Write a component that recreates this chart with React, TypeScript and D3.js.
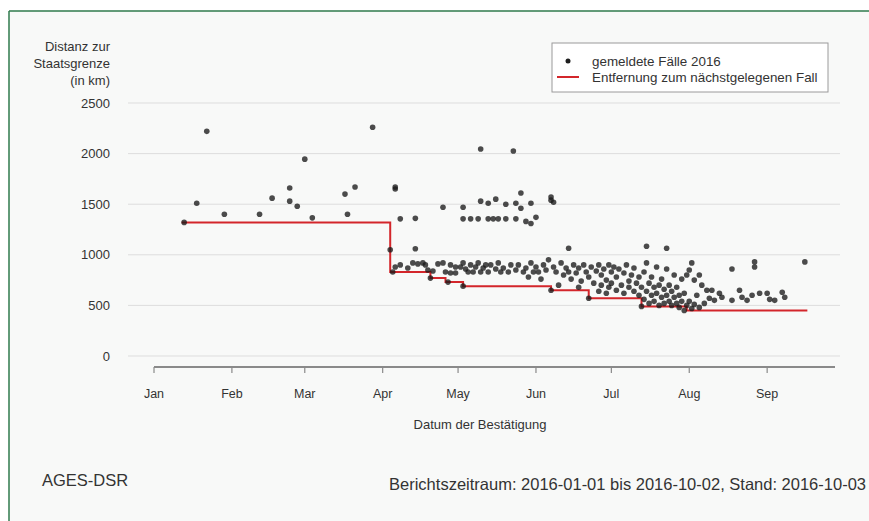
import React from "react";
import * as d3 from "d3";

// ticks / labels
const monthLabels = ["Jan", "Feb", "Mar", "Apr", "May", "Jun", "Jul", "Aug", "Sep"];
const yTicks = [0, 500, 1000, 1500, 2000, 2500];

// gemeldete Fälle 2016: [MM-DD, km]
const earlyCases: [string, number][] = [
  ["01-13", 1320], ["01-18", 1510], ["01-22", 2220], ["01-29", 1400], ["02-12", 1400],
  ["02-17", 1560], ["02-24", 1660], ["02-24", 1530], ["02-27", 1480], ["03-01", 1945],
  ["03-04", 1365], ["03-17", 1600], ["03-18", 1400], ["03-21", 1670], ["03-28", 2260],
];

const aprilCases: [string, number][] = [
  ["04-04", 1050], ["04-05", 830], ["04-06", 1650], ["04-06", 1670], ["04-06", 880],
  ["04-08", 1355], ["04-08", 900], ["04-11", 870], ["04-13", 920], ["04-14", 1360],
  ["04-14", 1060], ["04-15", 910], ["04-17", 920], ["04-18", 900], ["04-19", 850],
  ["04-20", 770], ["04-21", 840], ["04-23", 910], ["04-25", 1470], ["04-25", 920],
  ["04-26", 830], ["04-27", 730], ["04-28", 820], ["04-28", 900], ["04-30", 880],
  ["04-30", 820],
];

const mayCases: [string, number][] = [
  ["05-02", 880], ["05-03", 1470], ["05-03", 1355], ["05-03", 920], ["05-03", 690],
  ["05-04", 860], ["05-05", 830], ["05-06", 1355], ["05-06", 900], ["05-07", 830],
  ["05-08", 880], ["05-09", 1355], ["05-09", 920], ["05-10", 2045], ["05-10", 1530],
  ["05-10", 830], ["05-11", 870], ["05-12", 900], ["05-13", 1510], ["05-13", 1355],
  ["05-13", 830], ["05-14", 900], ["05-15", 1355], ["05-16", 1550], ["05-16", 860],
  ["05-17", 1355], ["05-17", 920], ["05-18", 830], ["05-19", 870], ["05-20", 1500],
  ["05-20", 1355], ["05-21", 830], ["05-22", 900], ["05-23", 2025], ["05-24", 1510],
  ["05-24", 1355], ["05-24", 850], ["05-25", 900], ["05-26", 1460], ["05-26", 1610],
  ["05-27", 830], ["05-28", 1330], ["05-28", 870], ["05-29", 780], ["05-30", 1510],
  ["05-30", 1310], ["05-30", 920], ["05-31", 830],
];

const juneCases: [string, number][] = [
  ["06-01", 1370], ["06-01", 880], ["06-02", 830], ["06-03", 760], ["06-04", 900],
  ["06-05", 850], ["06-06", 950], ["06-07", 1570], ["06-07", 1540], ["06-07", 650],
  ["06-08", 1520], ["06-08", 880], ["06-09", 830], ["06-10", 700], ["06-11", 920],
  ["06-12", 800], ["06-13", 870], ["06-14", 1065], ["06-14", 830], ["06-15", 760],
  ["06-16", 900], ["06-17", 820], ["06-18", 870], ["06-18", 680], ["06-19", 740],
  ["06-20", 900], ["06-21", 830], ["06-22", 570], ["06-22", 780], ["06-23", 880],
  ["06-24", 720], ["06-25", 840], ["06-26", 900], ["06-26", 640], ["06-27", 700],
  ["06-27", 800], ["06-28", 860], ["06-29", 750], ["06-29", 620], ["06-30", 900],
  ["06-30", 680],
];

const julyCases: [string, number][] = [
  ["07-01", 830], ["07-01", 720], ["07-02", 880], ["07-03", 650], ["07-03", 780],
  ["07-04", 860], ["07-05", 700], ["07-06", 820], ["07-06", 620], ["07-07", 900],
  ["07-08", 740], ["07-08", 680], ["07-09", 800], ["07-10", 640], ["07-10", 870],
  ["07-11", 720], ["07-12", 600], ["07-12", 780], ["07-13", 490], ["07-13", 680],
  ["07-14", 830], ["07-14", 560], ["07-15", 1085], ["07-15", 920], ["07-15", 640],
  ["07-16", 720], ["07-16", 520], ["07-17", 600], ["07-17", 780], ["07-18", 680],
  ["07-18", 540], ["07-19", 880], ["07-19", 620], ["07-20", 500], ["07-20", 700],
  ["07-21", 580], ["07-21", 760], ["07-22", 660], ["07-22", 520], ["07-23", 1065],
  ["07-23", 860], ["07-23", 600], ["07-24", 540], ["07-24", 700], ["07-25", 640],
  ["07-25", 500], ["07-26", 580], ["07-26", 800], ["07-27", 520], ["07-27", 680],
  ["07-28", 600], ["07-28", 480], ["07-29", 540], ["07-29", 760], ["07-30", 450],
  ["07-30", 620], ["07-31", 500], ["07-31", 800],
];

const augSepCases: [string, number][] = [
  ["08-01", 540], ["08-01", 850], ["08-02", 920], ["08-02", 470], ["08-03", 750],
  ["08-03", 510], ["08-04", 600], ["08-05", 800], ["08-05", 480], ["08-06", 700],
  ["08-07", 520], ["08-08", 650], ["08-09", 570], ["08-10", 650], ["08-11", 550],
  ["08-13", 620], ["08-14", 580], ["08-18", 860], ["08-18", 550], ["08-21", 650],
  ["08-22", 580], ["08-24", 550], ["08-26", 600], ["08-27", 930], ["08-27", 880],
  ["08-29", 620], ["09-01", 620], ["09-02", 560], ["09-04", 550], ["09-07", 630],
  ["09-08", 580], ["09-16", 930],
];

// Entfernung zum nächstgelegenen Fall (step line)
const stepDates = ["01-12", "04-04", "04-20", "04-26", "05-03", "06-07", "06-22", "07-13", "07-31", "09-17"];
const stepKm = [1320, 830, 770, 730, 690, 650, 570, 490, 450, 450];

const parse = d3.timeParse("%Y-%m-%d");
const toDate = (md: string) => parse("2016-" + md) as Date;

const FONT = "'Liberation Sans', Arial, sans-serif";

export default function App() {
  const W = 869;
  const H = 521;

  const x = d3.scaleTime().domain([toDate("01-01"), toDate("09-28")]).range([154, 835]);
  const y = d3.scaleLinear().domain([0, 2500]).range([356, 103]);

  const cases = [...earlyCases, ...aprilCases, ...mayCases, ...juneCases, ...julyCases, ...augSepCases];
  const monthTicks = d3.timeMonth.range(toDate("01-01"), toDate("09-02"));

  const stepPts: [Date, number][] = stepDates.map((d, i) => [toDate(d), stepKm[i]]);
  const line = d3
    .line<[Date, number]>()
    .x((d) => x(d[0]))
    .y((d) => y(d[1]))
    .curve(d3.curveStepAfter);

  const axisY = 367;
  const gridLeft = 128;
  const gridRight = 840;
  const red = "#d3262b";

  return (
    <div style={{ position: "absolute", left: 0, top: 0 }}>
      <svg width={W} height={H} style={{ display: "block", fontFamily: FONT }}>
        <rect x={0} y={0} width={W} height={H} fill="#ffffff" />
        <rect x={9} y={11} width={W - 9} height={H - 11} fill="#f8f9f8" />
        <line x1={9} x2={W} y1={11} y2={11} stroke="#2f7a4c" strokeWidth={1.5} />
        <line x1={9} x2={9} y1={11} y2={H} stroke="#2f7a4c" strokeWidth={1.5} />

        {/* y title */}
        <g fontSize={13} fill="#333" textAnchor="end">
          <text x={110} y={51}>Distanz zur</text>
          <text x={110} y={68}>Staatsgrenze</text>
          <text x={110} y={85}>(in km)</text>
        </g>

        {/* grid + y ticks */}
        {yTicks.map((t) => (
          <g key={t}>
            <line x1={gridLeft} x2={gridRight} y1={y(t)} y2={y(t)} stroke="#dddddd" strokeWidth={1} />
            <text x={110} y={y(t)} dy="0.35em" textAnchor="end" fontSize={13} fill="#333">
              {t}
            </text>
          </g>
        ))}

        {/* x axis */}
        <line x1={x.range()[0]} x2={x.range()[1]} y1={axisY} y2={axisY} stroke="#8a8a8a" strokeWidth={2} />
        {monthTicks.map((m, i) => (
          <g key={i} transform={`translate(${x(m)},0)`}>
            <line y1={axisY} y2={axisY + 6} stroke="#8a8a8a" strokeWidth={1.2} />
            <text y={axisY + 31} textAnchor="middle" fontSize={12.5} fill="#333">
              {monthLabels[i]}
            </text>
          </g>
        ))}
        <text x={480} y={429} textAnchor="middle" fontSize={13} fill="#333">
          Datum der Bestätigung
        </text>

        {/* step line */}
        <path d={line(stepPts) ?? ""} fill="none" stroke={red} strokeWidth={2} />

        {/* points */}
        <g fill="#1a1a1a" fillOpacity={0.78}>
          {cases.map((c, i) => (
            <circle key={i} cx={x(toDate(c[0]))} cy={y(c[1])} r={2.8} />
          ))}
        </g>

        {/* legend */}
        <rect x={552} y={43} width={276} height={49} fill="#ffffff" stroke="#9a9a9a" strokeWidth={1} />
        <circle cx={568} cy={61} r={2.5} fill="#1e1e1e" />
        <text x={592} y={61} dy="0.35em" fontSize={13.4} fill="#333">
          gemeldete Fälle 2016
        </text>
        <line x1={557} x2={579} y1={77} y2={77} stroke={red} strokeWidth={2} />
        <text x={592} y={77} dy="0.35em" fontSize={13.4} fill="#333">
          Entfernung zum nächstgelegenen Fall
        </text>

        {/* footer */}
        <text x={42} y={486} fontSize={16.5} fill="#333">
          AGES-DSR
        </text>
        <text x={866} y={490} textAnchor="end" fontSize={16.5} fill="#333">
          Berichtszeitraum: 2016-01-01 bis 2016-10-02, Stand: 2016-10-03
        </text>
      </svg>
    </div>
  );
}
